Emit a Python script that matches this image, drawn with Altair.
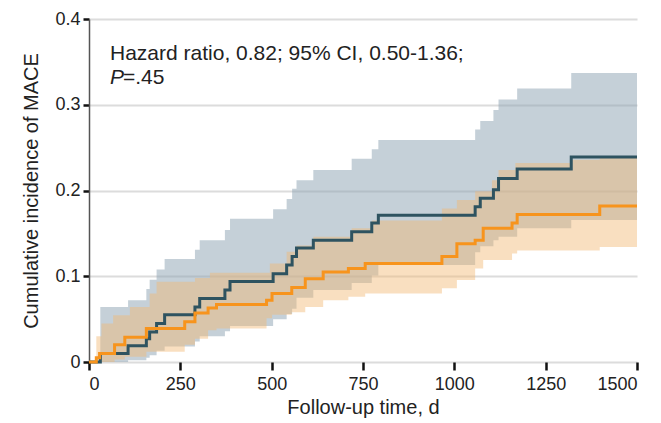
import altair as alt
import pandas as pd
import numpy as np

# ---- data ----
# Group A (dark slate line)
a_t = [0, 31, 107, 157, 166, 185, 207, 290, 303, 372, 386, 504, 541, 556, 568, 614, 719, 774, 792, 1057, 1071, 1107, 1121, 1172, 1320, 1500]
a_est = [0, .010, .019, .027, .035, .045, .055, .064, .074, .084, .094, .103, .113, .123, .133, .142, .152, .162, .171, .181, .191, .201, .214, .225, .239, .239]
a_up = [0, .064, .072, .085, .096, .108, .120, .131, .142, .154, .167, .178, .190, .202, .212, .224, .237, .248, .259, .271, .281, .294, .306, .319, .337, .337]
a_lo = [0, 0, .002, .005, .008, .013, .018, .024, .030, .036, .042, .050, .056, .062, .075, .084, .092, .101, .113, .128, .135, .142, .146, .156, .1655, .1655]

# Group B (orange line)
b_t = [0, 20, 29, 70, 98, 157, 262, 290, 326, 349, 486, 501, 555, 592, 641, 710, 756, 966, 1007, 1057, 1079, 1158, 1172, 1398, 1500]
b_est = [0, .005, .010, .020, .029, .039, .047, .057, .063, .067, .072, .080, .087, .097, .105, .109, .115, .123, .138, .142, .156, .162, .172, .182, .182]
b_lo = [0, 0, 0, .003, .006, .012, .020, .027, .037, .039, .051, .055, .058, .064, .072, .076, .080, .086, .0955, .109, .119, .1266, .130, .134, .134]
b_up_t = [0, 20, 34, 66, 112, 166, 185, 290, 331, 495, 541, 568, 614, 719, 774, 966, 1007, 1057, 1103, 1121, 1167, 1318, 1398, 1500]
b_up = [0, .030, .045, .0545, .064, .080, .0935, .098, .104, .115, .1285, .136, .146, .156, .165, .179, .189, .199, .212, .224, .232, .236, .238, .238]

x_ticks = [0, 250, 500, 750, 1000, 1250, 1500]
y_ticks = [0, 0.1, 0.2, 0.3, 0.4]
annot1 = "Hazard ratio, 0.82; 95% CI, 0.50-1.36;"
annot2_p = "P"
annot2_rest = "=.45"

FONT = "Liberation Sans"
TXT = "#222"


def step_lookup(ts, vs, grid):
    ts = np.asarray(ts)
    idx = np.searchsorted(ts, grid, side="right") - 1
    return np.asarray(vs)[idx]


def band_df(lo_t, lo_v, up_t, up_v, name):
    grid = np.array(sorted(set(lo_t) | set(up_t)))
    return pd.DataFrame({
        "t": grid,
        "lo": step_lookup(lo_t, lo_v, grid),
        "up": step_lookup(up_t, up_v, grid),
        "g": name,
    })


band_a = band_df(a_t, a_lo, a_t, a_up, "A")
band_b = band_df(b_t, b_lo, b_up_t, b_up, "B")
line_a = pd.DataFrame({"t": a_t, "v": a_est})
line_b = pd.DataFrame({"t": b_t, "v": b_est})

xs = alt.Scale(domain=[0, 1500], nice=False, zero=False)
ys = alt.Scale(domain=[0, 0.4], nice=False)

x_axis = alt.Axis(values=x_ticks, format="d", grid=False, domain=False, tickColor="#111", tickWidth=2.5,
                  tickSize=8, labelPadding=5, labelFontSize=18, labelFont=FONT, labelColor=TXT,
                  title="Follow-up time, d", titleFontSize=20, titleFont=FONT, titleColor=TXT,
                  titleFontWeight="normal", titlePadding=4)
y_axis = alt.Axis(values=y_ticks, grid=True, gridColor="#dcdcdc", gridWidth=2,
                  domainColor="#555", domainWidth=1.5, tickColor="#111", tickWidth=2.5, tickSize=6,
                  labelPadding=3, labelFontSize=18, labelFont=FONT, labelColor=TXT,
                  labelExpr="datum.value == 0 ? '0' : format(datum.value, '.1f')",
                  title="Cumulative incidence of MACE", titleFontSize=20, titleFont=FONT,
                  titleColor=TXT, titleFontWeight="normal", titlePadding=13)

X = alt.X("t:Q", scale=xs, axis=x_axis)

area_a = alt.Chart(band_a).mark_area(interpolate="step-after", color="#8ba1b1", opacity=0.5).encode(
    x=X, y=alt.Y("up:Q", scale=ys, axis=y_axis), y2="lo:Q")
area_b = alt.Chart(band_b).mark_area(interpolate="step-after", color="#f2b873", opacity=0.45).encode(
    x=alt.X("t:Q", scale=xs), y=alt.Y("up:Q", scale=ys), y2="lo:Q")
ln_a = alt.Chart(line_a).mark_line(interpolate="step-after", color="#2e5360", strokeWidth=3).encode(
    x=alt.X("t:Q", scale=xs), y=alt.Y("v:Q", scale=ys))
ln_b = alt.Chart(line_b).mark_line(interpolate="step-after", color="#f7941d", strokeWidth=3).encode(
    x=alt.X("t:Q", scale=xs), y=alt.Y("v:Q", scale=ys))

txt_df = pd.DataFrame({"s": [annot1]})
t1 = alt.Chart(txt_df).mark_text(align="left", baseline="alphabetic", font=FONT, fontSize=21, color=TXT).encode(
    x=alt.value(21), y=alt.value(41), text="s:N")
t2 = alt.Chart(pd.DataFrame({"s": [annot2_p]})).mark_text(align="left", baseline="alphabetic", font=FONT,
    fontSize=21, fontStyle="italic", color=TXT).encode(x=alt.value(21), y=alt.value(65), text="s:N")
t3 = alt.Chart(pd.DataFrame({"s": [annot2_rest]})).mark_text(align="left", baseline="alphabetic", font=FONT,
    fontSize=21, color=TXT).encode(x=alt.value(34), y=alt.value(65), text="s:N")

chart = alt.layer(area_a, area_b, ln_a, ln_b, t1, t2, t3).properties(
    width=548, height=343,
    padding={"left": 81, "top": 11, "right": 16, "bottom": 60},
    autosize=alt.AutoSizeParams(type="none"),
).configure_view(stroke=None)

chart.save("out.html", embed_options={"renderer": "svg", "actions": False})
